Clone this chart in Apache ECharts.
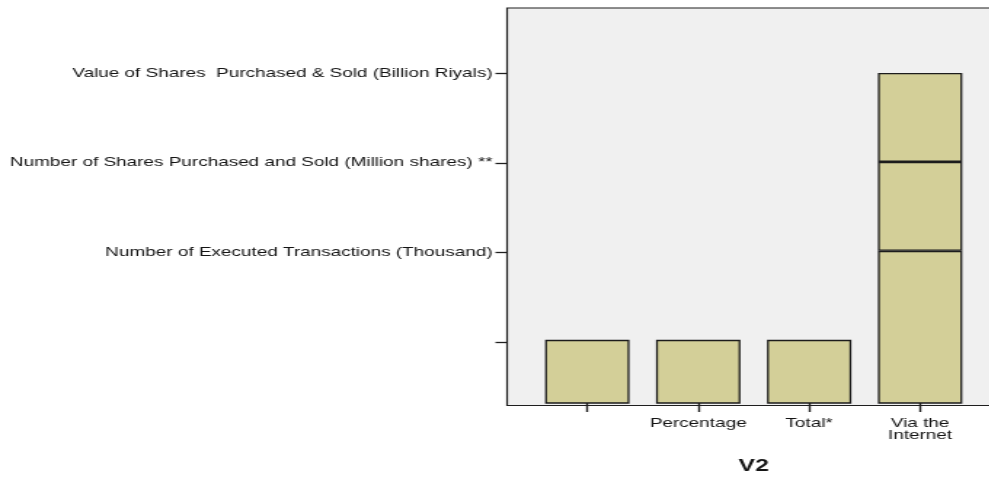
<!DOCTYPE html>
<html>
<head>
<meta charset="utf-8">
<script src="https://cdn.jsdelivr.net/npm/echarts@6/dist/echarts.min.js"></script>
<style>
    html, body { margin: 0; padding: 0; background: #fff; overflow: hidden; }
    /* the source picture is stretched sideways, so draw narrow and widen it */
    #chart { width: 682px; height: 480px; transform: scaleX(1.455); transform-origin: 0 0; }
</style>
</head>
<body>
<div id="chart"></div>
<script>
// V2 categories along the bottom
const v2Categories = ['', 'Percentage', 'Total*', 'Via the\nInternet'];

// ordinal levels on the vertical axis (level 1 has no label)
const levelTicks = [1, 2, 3, 4];
const levelLabels = [
    '',
    'Number of Executed Transactions (Thousand)',
    'Number of Shares Purchased and Sold (Million shares) **',
    'Value of Shares  Purchased & Sold (Billion Riyals)'
];

// stacked segments, one value per V2 category
const baseSegment = [1, 1, 1, 2];
const secondSegment = [null, null, null, 1];
const thirdSegment = [null, null, null, 1];

const FONT = 'Liberation Sans, Arial, sans-serif';
const TEXT = '#141414';
const LINE = '#1e1e1e';
const BAR_FILL = '#d3cf98';
const BAR_EDGE = '#1c1c1c';
const Y_MIN = 0.29;
const Y_MAX = 4.73;

const chart = echarts.init(document.getElementById('chart'));

function barSeries(name, data) {
    return {
        type: 'bar',
        name,
        stack: 'levels',
        xAxisIndex: 1,
        yAxisIndex: 1,
        barWidth: 58,
        data,
        itemStyle: { color: BAR_FILL, borderColor: BAR_EDGE, borderWidth: 1.3 },
        emphasis: { disabled: true },
        silent: true
    };
}

// x positions below are in the narrow (unstretched) space
chart.setOption({
    animation: false,
    grid: [
        // frame with grey plot background
        { left: 348.5, top: 8, right: -4, bottom: 74.5, show: true, backgroundColor: '#f0f0f0', borderColor: LINE, borderWidth: 1.2 },
        // data area, inset from the frame
        { left: 365.5, top: 8, right: 11.5, bottom: 74.5 }
    ],
    xAxis: [
        { gridIndex: 0, type: 'category', data: v2Categories, show: false },
        {
            gridIndex: 1,
            type: 'category',
            data: v2Categories,
            axisLine: { show: false },
            axisTick: { show: true, alignWithLabel: true, length: 9, lineStyle: { color: LINE, width: 1.4 } },
            axisLabel: { color: TEXT, fontSize: 13, fontFamily: FONT, lineHeight: 11.5, margin: 15, interval: 0 },
            name: 'V2',
            nameLocation: 'middle',
            nameGap: 55,
            nameTextStyle: { color: TEXT, fontSize: 17, fontWeight: 'bold', fontFamily: FONT }
        }
    ],
    yAxis: [
        {
            gridIndex: 0,
            type: 'value',
            min: Y_MIN,
            max: Y_MAX,
            axisLine: { show: false },
            splitLine: { show: false },
            axisTick: { show: true, length: 8, customValues: levelTicks, lineStyle: { color: LINE, width: 1.3 } },
            axisLabel: {
                customValues: levelTicks,
                color: TEXT,
                fontSize: 13,
                fontFamily: FONT,
                margin: 10,
                padding: [9, 0, 0, 0],
                formatter: v => levelLabels[Math.round(v) - 1] || ''
            }
        },
        { gridIndex: 1, type: 'value', min: Y_MIN, max: Y_MAX, show: false, splitLine: { show: false } }
    ],
    series: [
        barSeries('base', baseSegment),
        barSeries('second', secondSegment),
        barSeries('third', thirdSegment)
    ]
});
</script>
</body>
</html>
